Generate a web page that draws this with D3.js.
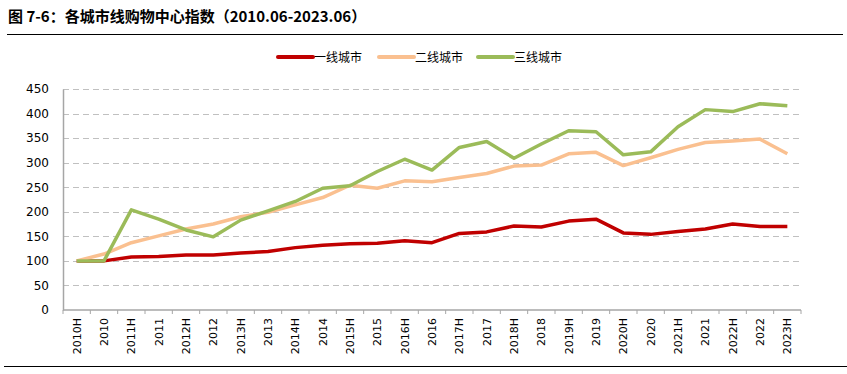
<!DOCTYPE html>
<html>
<head>
<meta charset="utf-8">
<script src="https://cdn.jsdelivr.net/npm/d3@7"></script>
<style>
  body { margin: 0; background: #fff; }
  svg { display: block; font-family: "Noto Sans CJK SC", "DejaVu Sans", sans-serif; }
</style>
</head>
<body>
<div id="chart"></div>
<script>
// Categories (half-year and full-year points)
const categories = [
  '2010H', '2010', '2011H', '2011', '2012H', '2012', '2013H', '2013', '2014H', '2014',
  '2015H', '2015', '2016H', '2016', '2017H', '2017', '2018H', '2018', '2019H', '2019',
  '2020H', '2020', '2021H', '2021', '2022H', '2022', '2023H'
];

const tier1 = [100, 100, 108, 109, 112, 112, 116, 119, 127, 132, 135, 136, 141, 137,
  156, 159, 171, 169, 181, 185, 157, 154, 160, 165, 175, 170, 170];
const tier2 = [100, 114, 137, 151, 165, 175, 190, 199, 214, 229, 254, 248, 263, 261,
  270, 278, 293, 295, 318, 321, 294, 310, 327, 341, 344, 348, 318];
const tier3 = [100, 100, 204, 185, 163, 149, 183, 202, 221, 248, 253, 282, 307, 285,
  331, 343, 309, 338, 365, 363, 316, 322, 373, 408, 404, 420, 416];

const yTicks = [0, 50, 100, 150, 200, 250, 300, 350, 400, 450];

const series = [
  { name: '一线城市', values: tier1, color: '#C00000' },
  { name: '二线城市', values: tier2, color: '#FAC090' },
  { name: '三线城市', values: tier3, color: '#9BBB59' }
];

const width = 847, height = 374;
const margin = { top: 89, right: 46, bottom: 64, left: 63 };
const innerW = width - margin.left - margin.right;
const innerH = height - margin.top - margin.bottom;

const svg = d3.select('#chart').append('svg')
  .attr('width', width)
  .attr('height', height);

// Title and rules
svg.append('text')
  .attr('x', 8)
  .attr('y', 22)
  .attr('font-size', '15px')
  .attr('font-weight', 'bold')
  .attr('fill', '#000')
  .text('图 7-6：各城市线购物中心指数（2010.06-2023.06）');

svg.append('line')
  .attr('x1', 7).attr('x2', 843)
  .attr('y1', 34.5).attr('y2', 34.5)
  .attr('stroke', '#000').attr('stroke-width', 1.2);

svg.append('line')
  .attr('x1', 4).attr('x2', 847)
  .attr('y1', 366.5).attr('y2', 366.5)
  .attr('stroke', '#000').attr('stroke-width', 1.2);

const g = svg.append('g')
  .attr('transform', `translate(${margin.left},${margin.top})`);

const x = d3.scaleBand()
  .domain(categories)
  .range([0, innerW]);

const y = d3.scaleLinear()
  .domain([0, 450])
  .range([innerH, 0]);

// Gridlines
g.selectAll('.grid')
  .data(yTicks.filter(d => d > 0))
  .join('line')
  .attr('class', 'grid')
  .attr('x1', 0).attr('x2', innerW)
  .attr('y1', d => Math.round(y(d)) + 0.5)
  .attr('y2', d => Math.round(y(d)) + 0.5)
  .attr('stroke', '#c0c0c0')
  .attr('stroke-dasharray', '6,4');

// Y axis
const yAxis = g.append('g')
  .call(d3.axisLeft(y).tickValues(yTicks).tickSize(0).tickPadding(14));
yAxis.select('.domain').attr('stroke', '#a6a6a6').attr('stroke-width', 1.5);
yAxis.selectAll('text')
  .attr('font-size', '12px')
  .attr('fill', '#000')
  .attr('font-family', 'DejaVu Sans, sans-serif');

// X axis with ticks at band boundaries
const xAxisG = g.append('g')
  .attr('transform', `translate(0,${innerH})`);
xAxisG.append('line')
  .attr('x1', 0).attr('x2', innerW)
  .attr('y1', 0).attr('y2', 0)
  .attr('stroke', '#a6a6a6').attr('stroke-width', 1.5);
xAxisG.selectAll('.xtick')
  .data(d3.range(categories.length + 1))
  .join('line')
  .attr('class', 'xtick')
  .attr('x1', i => i * x.step())
  .attr('x2', i => i * x.step())
  .attr('y1', 0).attr('y2', 4)
  .attr('stroke', '#a6a6a6').attr('stroke-width', 1);
xAxisG.selectAll('.xlabel')
  .data(categories)
  .join('text')
  .attr('class', 'xlabel')
  .attr('transform', d => `translate(${x(d) + x.bandwidth() / 2 + 4},8) rotate(-90)`)
  .attr('text-anchor', 'end')
  .attr('font-size', '11px')
  .attr('font-family', 'DejaVu Sans, sans-serif')
  .attr('fill', '#000')
  .text(d => d);

// Lines
const line = d3.line()
  .x((d, i) => x(categories[i]) + x.bandwidth() / 2)
  .y(d => y(d));

series.forEach(s => {
  g.append('path')
    .datum(s.values)
    .attr('fill', 'none')
    .attr('stroke', s.color)
    .attr('stroke-width', 3.5)
    .attr('stroke-linejoin', 'round')
    .attr('d', line);
});

// Legend
const legendX = [278, 379, 478];
series.forEach((s, i) => {
  const lg = svg.append('g').attr('transform', `translate(${legendX[i]},57)`);
  lg.append('line')
    .attr('x1', 0).attr('x2', 35)
    .attr('y1', 0).attr('y2', 0)
    .attr('stroke', s.color)
    .attr('stroke-width', 4)
    .attr('stroke-linecap', 'round');
  lg.append('text')
    .attr('x', 36)
    .attr('y', 4.5)
    .attr('font-size', '12px')
    .attr('fill', '#000')
    .text(s.name);
});
</script>
</body>
</html>
